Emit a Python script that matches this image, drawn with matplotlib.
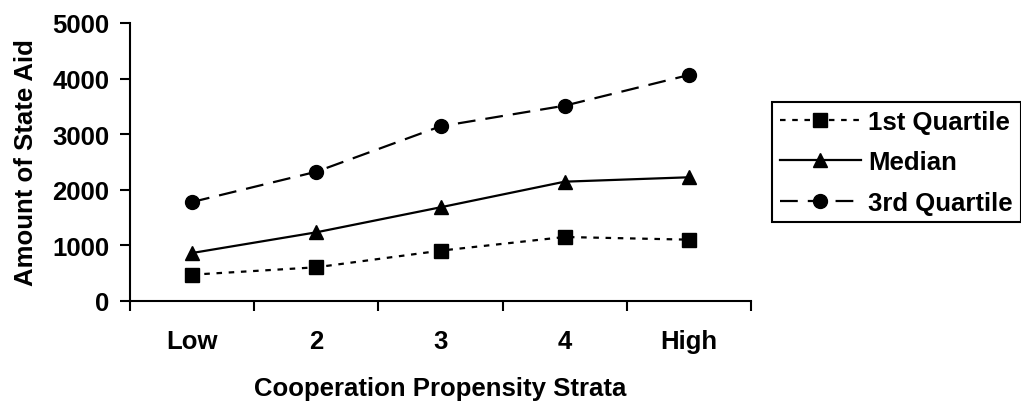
import matplotlib
matplotlib.use("Agg")
import matplotlib.pyplot as plt
import numpy as np

categories = ["Low", "2", "3", "4", "High"]
q1 = [473, 606, 905, 1151, 1103]
median = [863, 1235, 1685, 2146, 2225]
q3 = [1780, 2325, 3142, 3513, 4065]

plt.rcParams['font.family'] = ['Liberation Sans', 'DejaVu Sans']
plt.rcParams['font.weight'] = 'bold'

FS = 18.5

fig = plt.figure(figsize=(10.21, 4.02), dpi=100)
ax = fig.add_axes([0.1273, 0.2488, 0.6083, 0.6915])

x = np.arange(len(categories))
lw = 1.6
ms = 10
ax.plot(x, q1, color='black', lw=lw, linestyle=(0, (2.5, 3)), marker='s', ms=ms, label='1st Quartile')
ax.plot(x, median, color='black', lw=lw, linestyle='-', marker='^', ms=ms, label='Median')
ax.plot(x, q3, color='black', lw=lw, linestyle=(0, (8, 4.5)), marker='o', ms=ms, label='3rd Quartile')

ax.set_xlim(-0.5, len(categories) - 0.5)
ax.set_ylim(0, 5000)
ax.set_yticks([0, 1000, 2000, 3000, 4000, 5000])
ax.set_xticks(x)
ax.set_xticklabels(categories, fontsize=FS, fontweight='bold')
ax.set_xticks(np.arange(-0.5, len(categories)), minor=True)
ax.tick_params(axis='x', which='major', length=0, pad=20)
ax.tick_params(axis='x', which='minor', length=7, width=1.5, direction='out')
ax.tick_params(axis='y', length=7, width=1.5, direction='out', labelsize=FS, pad=8)
for lab in ax.get_yticklabels():
    lab.set_fontweight('bold')

for s in ['top', 'right']:
    ax.spines[s].set_visible(False)
for s in ['left', 'bottom']:
    ax.spines[s].set_linewidth(1.5)

ax.set_xlabel('Cooperation Propensity Strata', fontsize=FS, fontweight='bold', labelpad=17)
ax.set_ylabel('Amount of State Aid', fontsize=FS, fontweight='bold', labelpad=10)

leg = fig.legend(loc='upper left', bbox_to_anchor=(0.756, 0.744),
                 frameon=True, fancybox=False, edgecolor='black', framealpha=1,
                 handlelength=3.15, handletextpad=0.3, borderpad=0.3, labelspacing=0.64,
                 borderaxespad=0, prop={'weight': 'bold', 'size': FS})
leg.get_frame().set_linewidth(1.5)

fig.savefig('out.png', dpi=100)
